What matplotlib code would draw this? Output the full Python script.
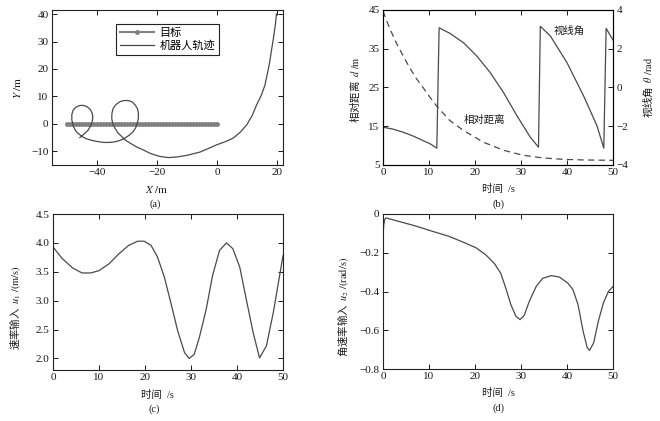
import matplotlib
matplotlib.use("Agg")
import matplotlib.pyplot as plt
import matplotlib.ticker as ticker

plt.rcParams['font.family'] = ['Liberation Serif', 'Noto Sans CJK SC']
plt.rcParams['mathtext.fontset'] = 'stix'
plt.rcParams['axes.unicode_minus'] = True

# (a) target and robot paths
target_x = [0, -1, -2, -3, -4, -5, -6, -7, -8, -9, -10, -11, -12, -13, -14, -15, -16,
            -17, -18, -19, -20, -21, -22, -23, -24, -25, -26, -27, -28, -29, -30, -31,
            -32, -33, -34, -35, -36, -37, -38, -39, -40, -41, -42, -43, -44, -45, -46,
            -47, -48, -49, -50]
target_y = [0] * len(target_x)
robot_x = [19.8, 19.5, 18.8, 17.4, 16.0, 14.8, 13.2, 11.7, 9.9, 7.8, 5.4, 2.8, 0.0,
           -2.9, -5.7, -10.1, -13.5, -16.2, -19.0, -22.0, -24.6, -27.0, -29.0, -30.6,
           -31.8, -33.1, -34.0, -34.8, -35.1, -35.0, -34.6, -33.6, -32.3, -31.0, -29.6,
           -28.3, -27.3, -26.5, -26.2, -26.2, -26.6, -27.1, -27.9, -29.2, -30.7, -32.0,
           -33.4, -35.0, -36.8, -38.5, -40.1, -41.8, -43.4, -44.7, -45.7, -46.6, -47.3,
           -48.0, -48.4, -48.4, -47.9, -47.0, -45.7, -44.5, -43.4, -42.3, -41.6, -41.4,
           -41.6, -42.1, -42.9, -43.8, -44.6, -45.7]
robot_y = [40.0, 36.5, 31.2, 21.5, 14.2, 10.5, 6.9, 3.0, -0.4, -3.0, -5.2, -6.5, -7.6,
           -9.0, -10.3, -11.5, -12.1, -12.3, -11.9, -10.9, -9.5, -8.3, -7.0, -5.9,
           -4.6, -3.2, -1.6, 0.2, 2.1, 4.0, 5.7, 7.1, 8.1, 8.5, 8.5,
           8.0, 6.9, 5.5, 3.9, 2.0, 0.2, -1.4, -2.8, -4.1, -5.2, -5.9,
           -6.4, -6.7, -6.8, -6.7, -6.4, -6.0, -5.5, -4.8, -4.0, -3.2, -2.2,
           -0.5, 1.5, 3.4, 5.1, 6.1, 6.7, 6.7, 6.3, 5.3, 3.9, 2.4,
           0.9, -0.7, -2.2, -3.2, -4.0, -5.0]

# (b) relative distance and line-of-sight angle
t_dist = [0, 1.4, 2.9, 4.4, 5.8, 7.2, 8.7, 10.2, 11.6, 14.5, 17.5, 21.8, 26.2, 30.5,
          34.9, 39.3, 43.6, 50]
dist = [44.7, 40.4, 36.5, 33.1, 30.1, 27.4, 25.0, 22.5, 20.3, 16.5, 13.9, 10.9, 8.8, 7.5,
        6.8, 6.45, 6.3, 6.2]
t_los = [0, 2.2, 4.4, 6.5, 8.7, 10.2, 11.7, 12.2, 14.5, 17.5, 20.4, 23.3, 26.2, 29.1,
         32.0, 33.8, 34.2, 36.4, 40.0, 43.6, 46.5, 48.0, 48.5, 50]
los = [-2.05, -2.15, -2.31, -2.5, -2.74, -2.9, -3.13, 3.08, 2.80, 2.31, 1.62, 0.77, -0.26,
       -1.45, -2.56, -3.08, 3.16, 2.65, 1.28, -0.43, -1.97, -3.13, 3.05, 2.45]

# (c) speed input
t_u1 = [0, 2.0, 4.2, 6.3, 8.2, 10.0, 12.2, 14.3, 16.5, 18.4, 19.8, 21.3, 22.7, 24.2,
        25.6, 27.1, 28.6, 29.6, 30.7, 31.8, 33.3, 34.7, 36.2, 37.7, 39.1, 40.6, 42.0,
        43.5, 44.9, 46.4, 47.9, 50]
u1 = [3.93, 3.73, 3.57, 3.48, 3.48, 3.52, 3.64, 3.81, 3.96, 4.03, 4.03, 3.96, 3.76, 3.41,
      2.97, 2.48, 2.10, 2.0, 2.07, 2.36, 2.85, 3.44, 3.87, 4.0, 3.90, 3.58, 3.03,
      2.45, 2.01, 2.22, 2.80, 3.78]

# (d) angular speed input
t_u2 = [0, 0.15, 0.4, 0.65, 3.4, 7.1, 10.7, 14.3, 17.3, 20.2, 22.4, 24.2, 25.6, 26.7,
        27.8, 28.9, 29.8, 30.7, 31.8, 33.3, 34.7, 36.6, 38.4, 40.2, 41.3, 42.4, 43.5,
        44.4, 44.9, 45.8, 46.8, 47.9, 49.0, 50]
u2 = [-0.126, -0.058, -0.027, -0.02, -0.038, -0.062, -0.089, -0.115, -0.144, -0.174,
      -0.212, -0.255, -0.306, -0.383, -0.468, -0.528, -0.545, -0.523, -0.451, -0.374,
      -0.332, -0.318, -0.326, -0.357, -0.391, -0.468, -0.605, -0.69, -0.704, -0.665,
      -0.554, -0.46, -0.40, -0.374]

line_c = '#4a4a4a'
txt_c = '#1a1a1a'
tick_fs = 8
lab_fs = 7.5
# rotated labels: CJK font first (fallback inside rotated text misplaces glyphs)
cjk_first = ['Noto Sans CJK SC', 'Liberation Serif']


def style(ax, right=True):
    ax.tick_params(direction='in', length=3.5, width=0.7, labelsize=tick_fs,
                   colors=txt_c, top=True, right=right, pad=2.5)
    for s in ax.spines.values():
        s.set_linewidth(0.8)
        s.set_color('#222222')


fig = plt.figure(figsize=(6.6, 4.21), dpi=100)
ax_a = fig.add_axes([0.0788, 0.6081, 0.35, 0.3682])
ax_b = fig.add_axes([0.5803, 0.6081, 0.3485, 0.3682])
ax_c = fig.add_axes([0.0803, 0.1211, 0.3485, 0.3705])
ax_d = fig.add_axes([0.5803, 0.1235, 0.3485, 0.3682])

# (a)
ax_a.plot(target_x, target_y, '-', color='#808080', lw=1.5, marker='.', ms=5,
          label='目标')
ax_a.plot(robot_x, robot_y, '-', color=line_c, lw=0.9, label='机器人轨迹')
ax_a.set_xlim(-55, 22)
ax_a.set_ylim(-15, 41.5)
ax_a.set_xticks([-40, -20, 0, 20])
ax_a.set_yticks([-10, 0, 10, 20, 30, 40])
style(ax_a)
leg = ax_a.legend(loc='upper left', bbox_to_anchor=(0.255, 0.723, 0.494, 0.225),
                  mode='expand', fontsize=8, handlelength=3.0, numpoints=1,
                  borderpad=0.35, labelspacing=0.25, handletextpad=0.5,
                  fancybox=False, framealpha=1, edgecolor='#222222')
leg.get_frame().set_linewidth(0.8)
ax_a.set_xlabel(r'$X\ \mathrm{/m}$', fontsize=lab_fs + 0.5, color=txt_c)
ax_a.set_ylabel(r'$Y\ \mathrm{/m}$', fontsize=lab_fs + 0.5, color=txt_c)
ax_a.xaxis.set_label_coords(0.455, -0.125)
ax_a.yaxis.set_label_coords(-0.126, 0.497)

# (b)
ax_b.plot(t_dist, dist, '--', color=line_c, lw=0.9, dashes=(5, 3.5))
ax_b.set_xlim(0, 50)
ax_b.set_ylim(5, 45)
ax_b.set_yticks([5, 15, 25, 35, 45])
style(ax_b, right=False)
ax_b2 = ax_b.twinx()
ax_b2.plot(t_los, los, '-', color=line_c, lw=0.9)
ax_b2.set_ylim(-4, 4)
ax_b2.set_yticks([-4, -2, 0, 2, 4])
ax_b2.tick_params(direction='in', length=3.5, width=0.7, labelsize=tick_fs,
                  colors=txt_c, pad=2.5)
ax_b.set_xlabel('时间  /s', fontsize=lab_fs, color=txt_c)
ax_b.set_ylabel(r'相对距离  $d\ \mathrm{/m}$', fontsize=lab_fs, color=txt_c,
                family=cjk_first)
ax_b2.set_ylabel(r'视线角  $\theta\ \mathrm{/rad}$', fontsize=lab_fs, color=txt_c,
                 family=cjk_first)
ax_b.xaxis.set_label_coords(0.5, -0.125)
ax_b.yaxis.set_label_coords(-0.091, 0.484)
ax_b2.yaxis.set_label_coords(1.126, 0.5)
ax_b.text(0.81, 0.865, '视线角', transform=ax_b.transAxes, fontsize=lab_fs,
          color=txt_c, ha='center', va='center')
ax_b.text(0.44, 0.29, '相对距离', transform=ax_b.transAxes, fontsize=lab_fs,
          color=txt_c, ha='center', va='center')

# (c)
ax_c.plot(t_u1, u1, '-', color=line_c, lw=0.9)
ax_c.set_xlim(0, 50)
ax_c.set_ylim(1.8, 4.5)
ax_c.set_yticks([2.0, 2.5, 3.0, 3.5, 4.0, 4.5])
ax_c.yaxis.set_major_formatter(ticker.FormatStrFormatter('%.1f'))
style(ax_c)
ax_c.set_xlabel('时间  /s', fontsize=lab_fs, color=txt_c)
ax_c.set_ylabel(r'速率输入  $u_1\ \mathrm{/(m/s)}$', fontsize=lab_fs, color=txt_c,
                family=cjk_first)
ax_c.xaxis.set_label_coords(0.455, -0.125)
ax_c.yaxis.set_label_coords(-0.13, 0.40)

# (d)
ax_d.plot(t_u2, u2, '-', color=line_c, lw=0.9)
ax_d.set_xlim(0, 50)
ax_d.set_ylim(-0.8, 0)
ax_d.set_yticks([-0.8, -0.6, -0.4, -0.2, 0])
ax_d.yaxis.set_major_formatter(ticker.FuncFormatter(
    lambda v, p: '0' if abs(v) < 1e-9 else ('%.1f' % v).replace('-', '\u2212')))
style(ax_d)
ax_d.set_xlabel('时间  /s', fontsize=lab_fs, color=txt_c)
ax_d.set_ylabel(r'角速率输入  $u_2\ \mathrm{/(rad/s)}$', fontsize=lab_fs, color=txt_c,
                family=cjk_first)
ax_d.xaxis.set_label_coords(0.5, -0.125)
ax_d.yaxis.set_label_coords(-0.139, 0.40)

for ax, cap, cx in [(ax_a, '(a)', 0.445), (ax_b, '(b)', 0.5),
                    (ax_c, '(c)', 0.44), (ax_d, '(d)', 0.5)]:
    ax.text(cx, -0.25, cap, transform=ax.transAxes, fontsize=lab_fs, color=txt_c,
            ha='center', va='center')

fig.savefig('out.png', dpi=100)
